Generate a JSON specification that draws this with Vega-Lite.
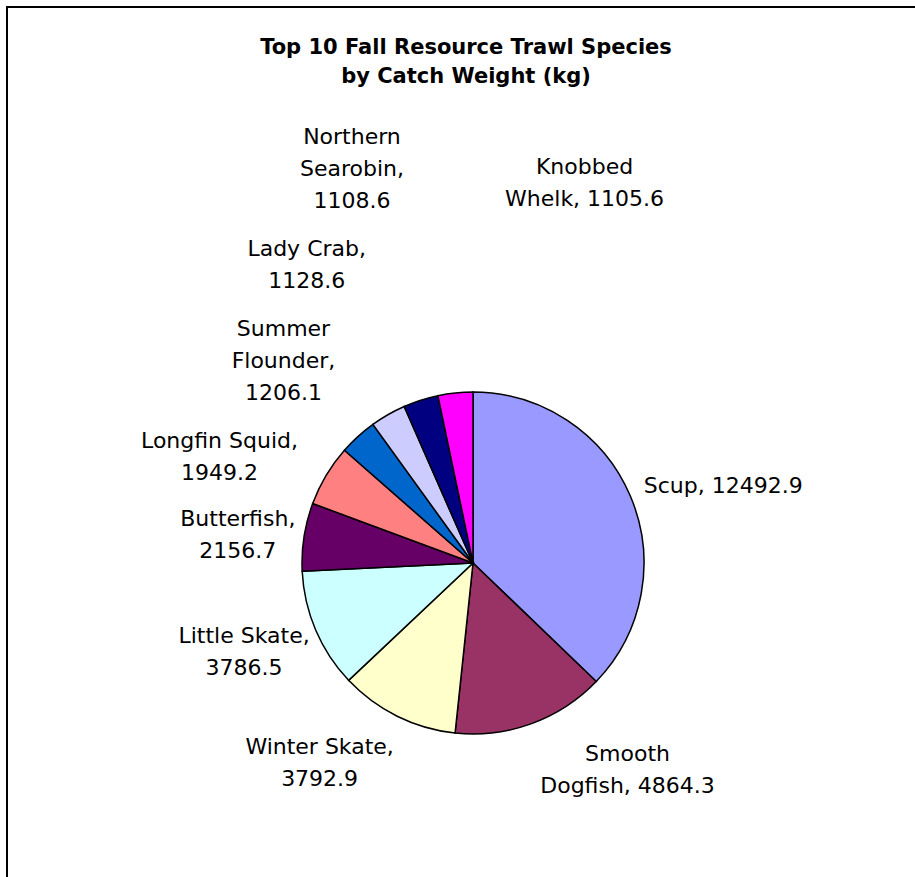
{
  "$schema": "https://vega.github.io/schema/vega-lite/v6.json",
  "width": 932,
  "height": 1112,
  "autosize": {"type": "none"},
  "padding": {"left": 7, "top": 7, "right": -24, "bottom": -242},
  "background": "white",
  "title": {
    "text": ["Top 10 Fall Resource Trawl Species", "by Catch Weight (kg)"],
    "anchor": "middle",
    "frame": "group",
    "font": "DejaVu Sans",
    "fontSize": 21,
    "fontWeight": "bold",
    "color": "#000",
    "lineHeight": 29,
    "baseline": "top",
    "offset": 0,
    "dx": -7,
    "dy": 81
  },
  "config": {"view": {"stroke": null}},
  "layer": [
    {
      "data": {"values": [{"frame": "chart area"}]},
      "mark": {"type": "rect", "filled": false, "stroke": "#000", "strokeWidth": 2},
      "encoding": {}
    },
    {
      "data": {
        "values": [
          {"rank": 1, "species": "Scup", "weight": 12492.9, "label": "Scup, 12492.9"},
          {"rank": 2, "species": "Smooth Dogfish", "weight": 4864.3, "label": "Smooth\nDogfish, 4864.3"},
          {"rank": 3, "species": "Winter Skate", "weight": 3792.9, "label": "Winter Skate,\n3792.9"},
          {"rank": 4, "species": "Little Skate", "weight": 3786.5, "label": "Little Skate,\n3786.5"},
          {"rank": 5, "species": "Butterfish", "weight": 2156.7, "label": "Butterfish,\n2156.7"},
          {"rank": 6, "species": "Longfin Squid", "weight": 1949.2, "label": "Longfin Squid,\n1949.2"},
          {"rank": 7, "species": "Summer Flounder", "weight": 1206.1, "label": "Summer\nFlounder,\n1206.1"},
          {"rank": 8, "species": "Lady Crab", "weight": 1128.6, "label": "Lady Crab,\n1128.6"},
          {"rank": 9, "species": "Northern Searobin", "weight": 1108.6, "label": "Northern\nSearobin,\n1108.6"},
          {"rank": 10, "species": "Knobbed Whelk", "weight": 1105.6, "label": "Knobbed\nWhelk, 1105.6"}
        ]
      },
      "encoding": {
        "theta": {"field": "weight", "type": "quantitative", "stack": true},
        "order": {"field": "rank", "type": "quantitative"},
        "detail": {"field": "species", "type": "nominal"},
        "color": {
          "field": "species",
          "type": "nominal",
          "legend": null,
          "scale": {
            "domain": ["Scup", "Smooth Dogfish", "Winter Skate", "Little Skate", "Butterfish", "Longfin Squid", "Summer Flounder", "Lady Crab", "Northern Searobin", "Knobbed Whelk"],
            "range": ["#9999FF", "#993366", "#FFFFCC", "#CCFFFF", "#660066", "#FF8080", "#0066CC", "#CCCCFF", "#000080", "#FF00FF"]
          }
        }
      },
      "layer": [
        {"mark": {"type": "arc", "outerRadius": 171, "stroke": "#000", "strokeWidth": 1.5}},
        {"mark": {"type": "text", "radius": 260, "dx": 11, "dy": 25, "align": "center", "baseline": "middle", "font": "DejaVu Sans", "fontSize": 22, "lineHeight": 32, "lineBreak": "\n"},
         "encoding": {"text": {"condition": {"test": "datum.species === 'Scup'", "field": "label"}, "value": ""}, "color": {"value": "#000"}}},
        {"mark": {"type": "text", "radius": 232, "dx": 75, "dy": -27, "align": "center", "baseline": "middle", "font": "DejaVu Sans", "fontSize": 22, "lineHeight": 32, "lineBreak": "\n"},
         "encoding": {"text": {"condition": {"test": "datum.species === 'Smooth Dogfish'", "field": "label"}, "value": ""}, "color": {"value": "#000"}}},
        {"mark": {"type": "text", "radius": 233, "dx": -50, "dy": -25, "align": "center", "baseline": "middle", "font": "DejaVu Sans", "fontSize": 22, "lineHeight": 32, "lineBreak": "\n"},
         "encoding": {"text": {"condition": {"test": "datum.species === 'Winter Skate'", "field": "label"}, "value": ""}, "color": {"value": "#000"}}},
        {"mark": {"type": "text", "radius": 239, "dx": -9, "dy": -21, "align": "center", "baseline": "middle", "font": "DejaVu Sans", "fontSize": 22, "lineHeight": 32, "lineBreak": "\n"},
         "encoding": {"text": {"condition": {"test": "datum.species === 'Little Skate'", "field": "label"}, "value": ""}, "color": {"value": "#000"}}},
        {"mark": {"type": "text", "radius": 239, "dx": 1, "dy": -7, "align": "center", "baseline": "middle", "font": "DejaVu Sans", "fontSize": 22, "lineHeight": 32, "lineBreak": "\n"},
         "encoding": {"text": {"condition": {"test": "datum.species === 'Butterfish'", "field": "label"}, "value": ""}, "color": {"value": "#000"}}},
        {"mark": {"type": "text", "radius": 280, "dx": -13, "dy": 21, "align": "center", "baseline": "middle", "font": "DejaVu Sans", "fontSize": 22, "lineHeight": 32, "lineBreak": "\n"},
         "encoding": {"text": {"condition": {"test": "datum.species === 'Longfin Squid'", "field": "label"}, "value": ""}, "color": {"value": "#000"}}},
        {"mark": {"type": "text", "radius": 301, "dx": 13, "dy": -11, "align": "center", "baseline": "middle", "font": "DejaVu Sans", "fontSize": 22, "lineHeight": 32, "lineBreak": "\n"},
         "encoding": {"text": {"condition": {"test": "datum.species === 'Summer Flounder'", "field": "label"}, "value": ""}, "color": {"value": "#000"}}},
        {"mark": {"type": "text", "radius": 355, "dx": 10, "dy": -6, "align": "center", "baseline": "middle", "font": "DejaVu Sans", "fontSize": 22, "lineHeight": 32, "lineBreak": "\n"},
         "encoding": {"text": {"condition": {"test": "datum.species === 'Lady Crab'", "field": "label"}, "value": ""}, "color": {"value": "#000"}}},
        {"mark": {"type": "text", "radius": 442, "dx": 14, "dy": -5, "align": "center", "baseline": "middle", "font": "DejaVu Sans", "fontSize": 22, "lineHeight": 32, "lineBreak": "\n"},
         "encoding": {"text": {"condition": {"test": "datum.species === 'Northern Searobin'", "field": "label"}, "value": ""}, "color": {"value": "#000"}}},
        {"mark": {"type": "text", "radius": 382, "dx": 151, "dy": -16, "align": "center", "baseline": "middle", "font": "DejaVu Sans", "fontSize": 22, "lineHeight": 32, "lineBreak": "\n"},
         "encoding": {"text": {"condition": {"test": "datum.species === 'Knobbed Whelk'", "field": "label"}, "value": ""}, "color": {"value": "#000"}}}
      ]
    }
  ]
}
